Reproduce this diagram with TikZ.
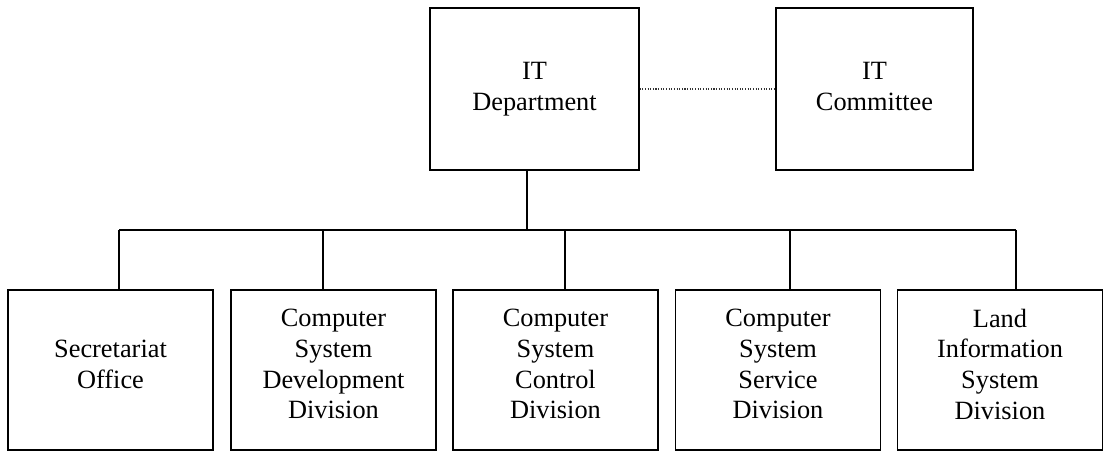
\documentclass[tikz,border=0pt]{standalone}
\usepackage{fontspec}
\setmainfont{Liberation Serif}
\tikzset{
	unit/.style={draw=black, line width=0.75pt, align=center, inner sep=0pt,
		font=\fontsize{15}{17.4}\selectfont},
	head/.style={unit, minimum height=162*0.02cm, text depth=3.3pt},
	division/.style={unit, minimum width=205*0.02cm, minimum height=160*0.02cm, text depth=6.8pt},
	link/.style={black, line width=0.6pt}
}
\begin{document}
\begin{tikzpicture}[x=0.02cm, y=0.02cm]
		\useasboundingbox (0,0) rectangle (1107,-455);
		
		% top level
		\node[head, minimum width=209*0.02cm] (dept) at (534.5,-89) {IT\\Department};
		\node[head, minimum width=197*0.02cm] (comm) at (874.5,-89) {IT\\Committee};
		
		% advisory link
		\draw [gray!40!black, line width=0.6pt, dash pattern=on 0.6pt off 0.9pt] (dept.east) -- (comm.west);
		
		% divisions
		\node[division] (sec) at (110.5,-370) {Secretariat\\Office};
		\node[division] (dev) at (333.5,-370) {Computer\\System\\Development\\Division};
		\node[division] (ctrl) at (555.5,-370) {Computer\\System\\Control\\Division};
		\node[division] (serv) at (778,-370) {Computer\\System\\Service\\Division};
		\node[division] (land) at (1000,-370) {Land\\Information\\System\\Division};
		
		% bus
		\coordinate (top) at (527,-230);
		\coordinate (t1) at (119,-230);
		\coordinate (t2) at (323,-230);
		\coordinate (t3) at (565,-230);
		\coordinate (t4) at (790,-230);
		\coordinate (t5) at (1016,-230);
		
		\draw [link] (dept.south -| top) -- (top);
		\draw [link] (t1) -- (t5);
		\draw [link] (t1) -- (t1 |- sec.north);
		\draw [link] (t2) -- (t2 |- dev.north);
		\draw [link] (t3) -- (t3 |- ctrl.north);
		\draw [link] (t4) -- (t4 |- serv.north);
		\draw [link] (t5) -- (t5 |- land.north);
		
\end{tikzpicture}
\end{document}
